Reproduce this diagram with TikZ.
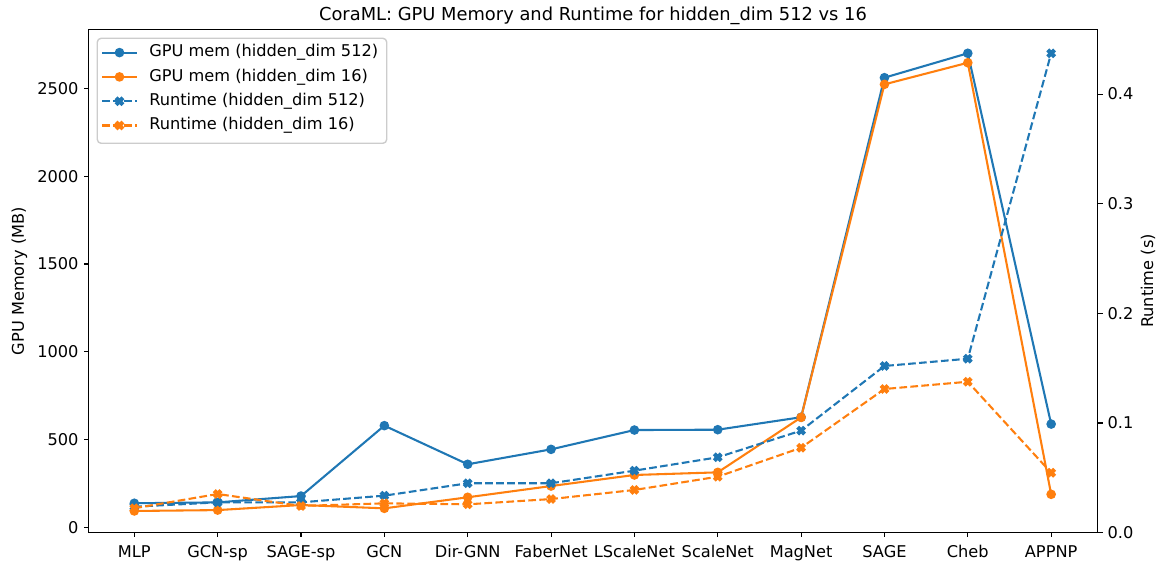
\documentclass[tikz,border=0pt]{standalone}
\usepackage{fontspec}
\setmainfont{DejaVu Sans}
\definecolor{tabblue}{HTML}{1F77B4}
\definecolor{taborange}{HTML}{FF7F0E}
\tikzset{xmk/.pic={\filldraw[pic actions,x=1pt,y=1pt,rotate=45,line width=1pt,line join=miter]
  (-1,-3)--(1,-3)--(1,-1)--(3,-1)--(3,1)--(1,1)--(1,3)--(-1,3)--(-1,1)--(-3,1)--(-3,-1)--(-1,-1)--cycle;}}
\begin{document}
\begin{tikzpicture}[x=0.01in,y=-0.01in,font=\fontsize{11.7}{14}\selectfont]
  \tikzstyle{spine}=[line width=0.8pt,line cap=rect]
  \tikzstyle{tickmark}=[line width=0.8pt]
  \tikzstyle{memline}=[line width=1.5pt,line join=round]
  \tikzstyle{rtline}=[line width=1.5pt,line join=round,dash pattern=on 5.55pt off 2.4pt]
  \tikzstyle{lab}=[inner sep=0pt]
  \useasboundingbox (0,0) rectangle (1159,567);
  % data points
  \foreach \v [count=\i from 0] in {137,142,178,579,359,444,554,556,627,2561,2700,588}
    \coordinate (ma\i) at ({134.3+83.35*\i},{527.3-0.17557*\v});
  \foreach \v [count=\i from 0] in {93,98,127,108,171,235,298,313,626,2523,2646,188}
    \coordinate (mb\i) at ({134.3+83.35*\i},{527.3-0.17557*\v});
  \foreach \v [count=\i from 0] in {0.0236,0.0276,0.0276,0.0337,0.045,0.045,0.0565,0.0687,0.093,0.152,0.1586,0.4372}
    \coordinate (ra\i) at ({134.3+83.35*\i},{532.6-1096.3*\v});
  \foreach \v [count=\i from 0] in {0.0222,0.0352,0.0243,0.0267,0.0258,0.0306,0.0389,0.051,0.0774,0.131,0.1376,0.0546}
    \coordinate (rb\i) at ({134.3+83.35*\i},{532.6-1096.3*\v});
  % curves
  \draw[memline,tabblue] (ma0) \foreach \i in {1,...,11}{ -- (ma\i)};
  \foreach \i in {0,...,11} \fill[tabblue] (ma\i) circle[radius=3.5pt];
  \draw[memline,taborange] (mb0) \foreach \i in {1,...,11}{ -- (mb\i)};
  \foreach \i in {0,...,11} \fill[taborange] (mb\i) circle[radius=3.5pt];
  \draw[rtline,tabblue] (ra0) \foreach \i in {1,...,11}{ -- (ra\i)};
  \foreach \i in {0,...,11} \pic[fill=tabblue,draw=tabblue] at (ra\i) {xmk};
  \draw[rtline,taborange] (rb0) \foreach \i in {1,...,11}{ -- (rb\i)};
  \foreach \i in {0,...,11} \pic[fill=taborange,draw=taborange] at (rb\i) {xmk};
  % axes box and ticks
  \draw[spine] (88.5,29.5) rectangle (1097.7,532.6);
  \foreach \lab [count=\i from 0] in {MLP,GCN-sp,SAGE-sp,GCN,Dir-GNN,FaberNet,LScaleNet,ScaleNet,MagNet,SAGE,Cheb,APPNP}{
    \draw[tickmark] ({134.3+83.35*\i},532.6) -- ++(0,4.86);
    \node[lab,anchor=base] (xl\i) at ({134.3+83.35*\i},557) {\lab};
  }
  \foreach \v in {0,500,1000,1500,2000,2500}{
    \draw[tickmark] (88.5,{527.3-0.17557*\v}) -- ++(-4.86,0);
    \node[lab,anchor=east] (yl\v) at (78.8,{527.3-0.17557*\v}) {\v};
  }
  \foreach \v in {0.0,0.1,0.2,0.3,0.4}{
    \draw[tickmark] (1097.7,{532.6-1096.3*\v}) -- ++(4.86,0);
    \node[lab,anchor=west] (yr\v) at (1107.4,{532.6-1096.3*\v}) {\v};
  }
  \node[rotate=90] (ylab) at (19.5,281) {GPU Memory (MB)};
  \node[rotate=90] (rlab) at (1148,281) {Runtime (s)};
  \node[anchor=base,font=\fontsize{12.9}{15}\selectfont] (title) at (593,20.5) {CoraML: GPU Memory and Runtime for hidden\_dim 512 vs 16};
  % legend
  \draw[draw=black!20,fill=white,fill opacity=0.8,rounded corners=2.8pt,line width=1pt] (97.3,38.3) rectangle (386.7,143.3);
  \coordinate (la) at (102,52.6); \coordinate (lb) at (102,76.9);
  \coordinate (lc) at (102,101.2); \coordinate (ld) at (102,125.5);
  \draw[memline,tabblue] (la) -- ++(35,0);
  \fill[tabblue] ([xshift=17.5*0.01in]la) circle[radius=3.5pt];
  \draw[memline,taborange] (lb) -- ++(35,0);
  \fill[taborange] ([xshift=17.5*0.01in]lb) circle[radius=3.5pt];
  \draw[rtline,tabblue] (lc) -- ++(35,0);
  \pic[fill=tabblue,draw=tabblue] at ([xshift=17.5*0.01in]lc) {xmk};
  \draw[rtline,taborange] (ld) -- ++(35,0);
  \pic[fill=taborange,draw=taborange] at ([xshift=17.5*0.01in]ld) {xmk};
  \node[lab,anchor=west] (lt1) at (149,52.6) {GPU mem (hidden\_dim 512)};
  \node[lab,anchor=west] (lt2) at (149,76.9) {GPU mem (hidden\_dim 16)};
  \node[lab,anchor=west] (lt3) at (149,101.2) {Runtime (hidden\_dim 512)};
  \node[lab,anchor=west] (lt4) at (149,125.5) {Runtime (hidden\_dim 16)};
\end{tikzpicture}
\end{document}
